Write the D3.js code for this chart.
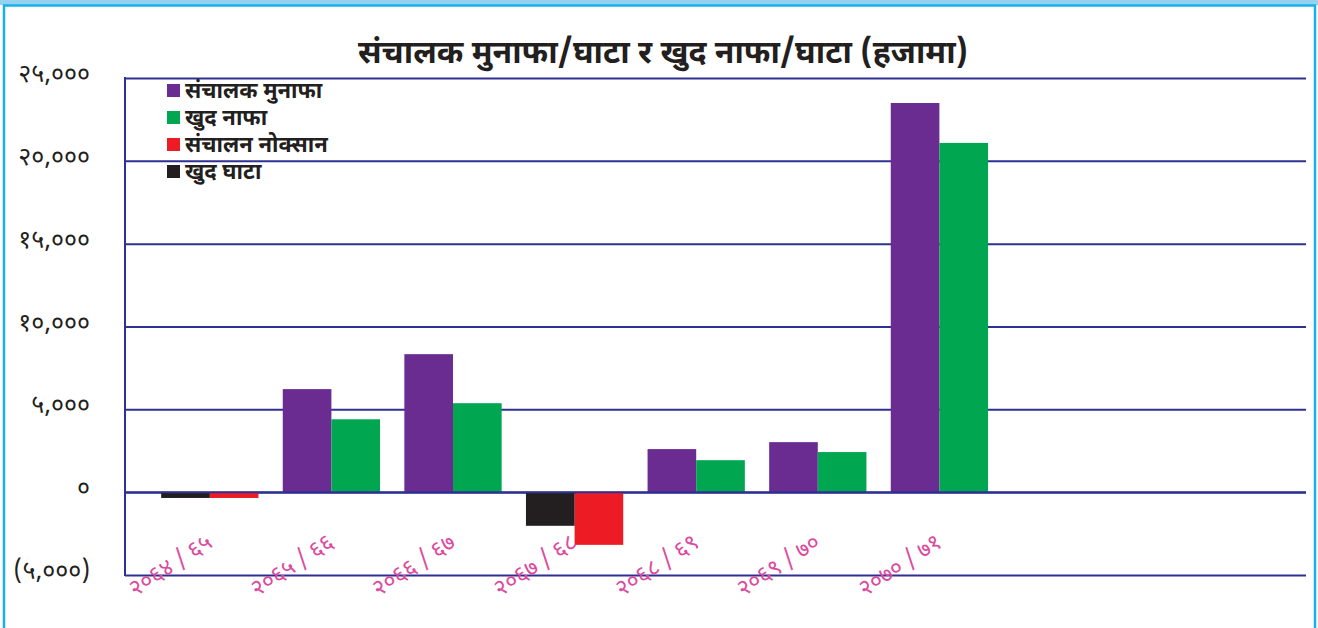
<!DOCTYPE html>
<html><head><meta charset="utf-8">
<script src="https://cdn.jsdelivr.net/npm/d3@7"></script>
<style>
html,body{margin:0;padding:0;background:#fff;}
svg{display:block;font-family:"Noto Sans Devanagari","Noto Sans","Lohit Devanagari","FreeSans",sans-serif;}
</style></head>
<body><svg id="c" width="1318" height="628"></svg>
<script>
const categories = ["२०६४/६५","२०६५/६६","२०६६/६७","२०६७/६८","२०६८/६९","२०६९/७०","२०७०/७१"];
const operatingProfit = [null, 6220, 8330, null, 2600, 3020, 23490];
const netProfit       = [null, 4400, 5370, null, 1930, 2420, 21080];
const operatingLoss   = [-350, null, null, -3180, null, null, null];
const netLoss         = [-350, null, null, -2030, null, null, null];
const yTicks = [-5000, 0, 5000, 10000, 15000, 20000, 25000];
const yTickLabels = ["(५,०००)","०","५,०००","१०,०००","१५,०००","२०,०००","२५,०००"];
const title = "संचालक मुनाफा/घाटा र खुद नाफा/घाटा (हजामा)";
const legendNames = ["संचालक मुनाफा","खुद नाफा","संचालन नोक्सान","खुद घाटा"];

const colors = {op:"#6a2c91", np:"#00a650", ol:"#ed1c24", nl:"#231f20"};
const series = [
  {key:"op", name:legendNames[0], values:operatingProfit, slot:0},
  {key:"np", name:legendNames[1], values:netProfit, slot:1},
  {key:"ol", name:legendNames[2], values:operatingLoss, slot:1},
  {key:"nl", name:legendNames[3], values:netLoss, slot:0}
];

const svg = d3.select("#c");
// frame
svg.append("rect").attr("x",0).attr("y",0).attr("width",1318).attr("height",5).attr("fill","#93d3ef");
svg.append("rect").attr("x",4).attr("y",5.5).attr("width",1311).attr("height",640)
  .attr("fill","none").attr("stroke","#1ab0ec").attr("stroke-width",2.5);

const axisX = 125, plotRight = 1306;
const y = d3.scaleLinear().domain([-5000,25000]).range([575,78]);
const x = d3.scaleBand().domain(categories).range([149, 149+7*121.6]).paddingInner(0.2).paddingOuter(0.1);
const xs = d3.scaleBand().domain([0,1]).range([0, x.bandwidth()]);

// title
svg.append("text").attr("x",663).attr("y",63).attr("text-anchor","middle")
  .attr("font-size",32).attr("font-weight","bold").attr("fill","#231f20").text(title);

// gridlines
const gAxis = svg.append("g").attr("transform",`translate(${axisX},0)`)
  .call(d3.axisLeft(y).tickValues(yTicks).tickSize(-(plotRight-axisX)).tickFormat(""));
gAxis.select(".domain").remove();
gAxis.selectAll(".tick line").attr("stroke","#2e3192").attr("stroke-width",2);

// y labels
svg.append("g").selectAll("text").data(yTicks).join("text")
  .attr("x",90).attr("y",d=>y(d)+4).attr("text-anchor","end")
  .attr("font-size",25).attr("fill","#231f20")
  .text((d,i)=>yTickLabels[i]);

// bars
series.forEach(s=>{
  svg.append("g").selectAll("rect")
    .data(categories.map((c,i)=>({c, v:s.values[i]})).filter(d=>d.v!==null))
    .join("rect")
    .attr("x",d=>x(d.c)+xs(s.slot))
    .attr("width",xs.bandwidth())
    .attr("y",d=>y(Math.max(0,d.v)))
    .attr("height",d=>Math.abs(y(d.v)-y(0)))
    .attr("fill",colors[s.key]);
});

// zero line on top and left axis line
svg.append("line").attr("x1",axisX).attr("x2",plotRight).attr("y1",y(0)).attr("y2",y(0))
  .attr("stroke","#2e3192").attr("stroke-width",2);
svg.append("line").attr("x1",axisX).attr("x2",axisX).attr("y1",y(25000)-1).attr("y2",y(-5000)+1)
  .attr("stroke","#2e3192").attr("stroke-width",2);

// x labels
svg.append("g").selectAll("text").data(categories).join("text")
  .attr("transform",d=>`translate(${x(d)+x.bandwidth()/2+4},${546}) rotate(-33)`)
  .attr("text-anchor","end").attr("font-size",23).attr("fill","#dc4a9e")
  .text(d=>d.replace("/"," / "));

// legend
const leg = svg.append("g");
const legOrder = ["op","np","ol","nl"];
legOrder.forEach((k,i)=>{
  const s = series.find(t=>t.key===k);
  leg.append("rect").attr("x",167).attr("y",84+i*27).attr("width",13).attr("height",13).attr("fill",colors[k]);
  leg.append("text").attr("x",185).attr("y",98+i*27).attr("font-size",22).attr("font-weight","bold")
    .attr("fill","#231f20").text(s.name);
});
</script></body></html>
